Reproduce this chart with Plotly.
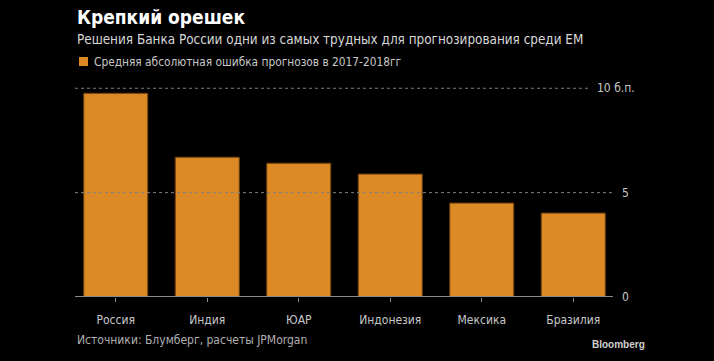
import plotly.graph_objects as go

categories = ["Россия", "Индия", "ЮАР", "Индонезия", "Мексика", "Бразилия"]
values = [9.76, 6.70, 6.41, 5.89, 4.50, 4.02]
series_name = "Средняя абсолютная ошибка прогнозов в 2017-2018гг"
y_tickvals = [0, 5, 10]
y_ticktext = ["0", "5", ""]
top_label = "10 б.п."

FONT = "DejaVu Sans Condensed, DejaVu Sans, sans-serif"
ORANGE = "#dc8a26"

fig = go.Figure()
fig.add_trace(go.Bar(
    x=categories, y=values, name=series_name,
    marker=dict(color=ORANGE, line=dict(color="#6b3c0c", width=1)),
    showlegend=False,
))

W, H = 714, 361
L, R, T, B = 70, 95, 82, 64
pw, ph = W - L - R, H - T - B
def px(x):
    return (x - L) / pw
def py(y):
    return (H - B - y) / ph

shapes = []
for v, x1 in [(y_tickvals[1], px(613)), (y_tickvals[2], px(589))]:
    shapes.append(dict(type="line", xref="paper", yref="y", x0=px(75), x1=x1, y0=v, y1=v,
                       line=dict(color="#808080", width=1, dash="dot")))
shapes.append(dict(type="line", xref="paper", yref="y", x0=px(75), x1=px(613), y0=0, y1=0,
                   line=dict(color="#8a8a8a", width=2)))
shapes.append(dict(type="rect", xref="paper", yref="paper",
                   x0=px(79), x1=px(88), y0=py(66), y1=py(57),
                   fillcolor=ORANGE, line=dict(width=0)))

fig.update_layout(
    width=W, height=H,
    margin=dict(l=L, r=R, t=T, b=B, autoexpand=False),
    paper_bgcolor="black", plot_bgcolor="black",
    font=dict(family=FONT, color="#c8c8c8", size=12),
    bargap=0.3,
    shapes=shapes,
    xaxis=dict(showgrid=False, showline=False, zeroline=False,
               ticks="outside", ticklen=4, tickcolor="#8a8a8a", tickwidth=1,
               tickfont=dict(size=12, color="#c8c8c8"), ticklabelstandoff=8),
    yaxis=dict(side="right", range=[0, 10.3], showgrid=False, zeroline=False, showline=False,
               tickvals=y_tickvals, ticktext=y_ticktext, ticks="",
               tickfont=dict(size=12, color="#c8c8c8"), ticklabelstandoff=2),
    annotations=[
        dict(text="<b>Крепкий орешек</b>", xref="paper", yref="paper", x=px(75), y=py(17),
             xanchor="left", yanchor="middle", showarrow=False,
             font=dict(size=19, color="white", family=FONT)),
        dict(text="Решения Банка России одни из самых трудных для прогнозирования среди EM",
             xref="paper", yref="paper", x=px(75), y=py(39), xanchor="left", yanchor="middle",
             showarrow=False, font=dict(size=13.4, color="#d8d8d8", family=FONT)),
        dict(text=series_name, xref="paper", yref="paper", x=px(92), y=py(62),
             xanchor="left", yanchor="middle", showarrow=False,
             font=dict(size=11.8, color="#c8c8c8", family=FONT)),
        dict(text=top_label, xref="paper", yref="y", x=px(595), y=y_tickvals[2],
             xanchor="left", yanchor="middle", showarrow=False,
             font=dict(size=12, color="#c8c8c8", family=FONT)),
        dict(text="Источники: Блумберг, расчеты JPMorgan", xref="paper", yref="paper",
             x=px(75), y=py(340), xanchor="left", yanchor="middle", showarrow=False,
             font=dict(size=12, color="#b0b0b0", family=FONT)),
        dict(text="<b>Bloomberg</b>", xref="paper", yref="paper", x=px(590), y=py(344),
             xanchor="left", yanchor="middle", showarrow=False,
             font=dict(size=10, color="#d0d0d0", family="Liberation Sans, Arial, sans-serif")),
    ],
)

fig.write_html("out.html", config={"displayModeBar": False},
               post_script="document.body.style.margin='0';document.body.style.padding='0';")
